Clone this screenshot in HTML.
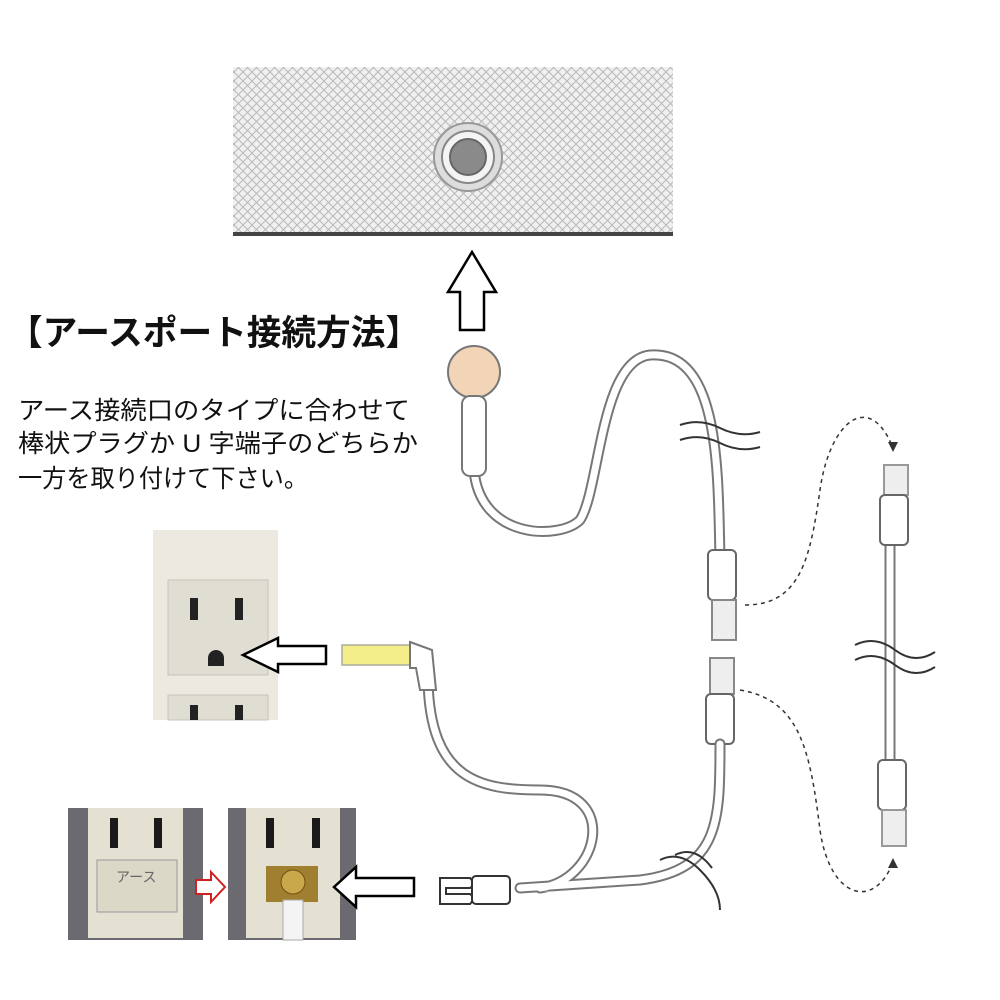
<!DOCTYPE html>
<html><head><meta charset="utf-8"><style>
body{margin:0;background:#fff;width:1000px;height:1000px;overflow:hidden}
svg{display:block}
text{font-family:"Liberation Sans","Noto Sans CJK JP",sans-serif}
</style></head><body>
<svg width="1000" height="1000" viewBox="0 0 1000 1000" xmlns="http://www.w3.org/2000/svg">
<defs>
<pattern id="hatch" width="9" height="9" patternUnits="userSpaceOnUse">
<rect width="9" height="9" fill="#f0f0f0"/>
<path d="M0 0L9 9M9 0L0 9" stroke="#b8b8b8" stroke-width="1"/>
</pattern>
</defs>
<rect x="233" y="67" width="440" height="167" fill="url(#hatch)"/>
<rect x="233" y="232" width="440" height="4" fill="#444"/>
<circle cx="468" cy="157" r="34" fill="#ddd" stroke="#999" stroke-width="2"/>
<circle cx="468" cy="157" r="26" fill="#f4f4f4" stroke="#888" stroke-width="2"/>
<circle cx="468" cy="157" r="18" fill="#8a8a8a" stroke="#666" stroke-width="2"/>
<polygon points="472,252 496,292 484,292 484,330 460,330 460,292 448,292" fill="#fff" stroke="#000" stroke-width="2.5"/>
<text x="8" y="345" font-size="35" font-weight="bold" fill="#111" textLength="412" lengthAdjust="spacingAndGlyphs">【アースポート接続方法】</text>
<text x="18" y="419" font-size="25" fill="#111" textLength="392" lengthAdjust="spacingAndGlyphs">アース接続口のタイプに合わせて</text>
<text x="18" y="452" font-size="25" fill="#111" textLength="400" lengthAdjust="spacingAndGlyphs">棒状プラグか U 字端子のどちらか</text>
<text x="18" y="487" font-size="25" fill="#111" textLength="290" lengthAdjust="spacingAndGlyphs">一方を取り付けて下さい。</text>
<g fill="none" stroke-linecap="round">
<path d="M474 470 C480 540 560 540 580 520 C600 490 600 360 650 355 C720 350 718 470 720 560" stroke="#777" stroke-width="11"/>
<path d="M474 470 C480 540 560 540 580 520 C600 490 600 360 650 355 C720 350 718 470 720 560" stroke="#fff" stroke-width="7"/>
</g>
<circle cx="474" cy="372" r="26" fill="#f2d5b6" stroke="#777" stroke-width="2"/>
<rect x="462" y="396" width="24" height="80" rx="8" fill="#fff" stroke="#777" stroke-width="2"/>
<path d="M680 425 Q700 418 720 428 T760 432 M680 440 Q700 433 720 443 T760 447" stroke="#333" stroke-width="2" fill="none"/>
<rect x="708" y="550" width="28" height="50" rx="5" fill="#fff" stroke="#666" stroke-width="2"/>
<rect x="712" y="600" width="24" height="40" fill="#eee" stroke="#888" stroke-width="2"/>
<rect x="710" y="658" width="24" height="36" fill="#eee" stroke="#888" stroke-width="2"/>
<rect x="706" y="694" width="28" height="50" rx="5" fill="#fff" stroke="#666" stroke-width="2"/>
<g fill="none" stroke-linecap="round">
<path d="M428 680 C430 780 480 790 540 790 C620 790 600 880 540 888 M720 744 C720 820 720 870 640 880 L520 888" stroke="#777" stroke-width="11"/>
<path d="M428 680 C430 780 480 790 540 790 C620 790 600 880 540 888 M720 744 C720 820 720 870 640 880 L520 888" stroke="#fff" stroke-width="7"/>
</g>
<rect x="342" y="645" width="72" height="20" fill="#f3ee8a" stroke="#aa9" stroke-width="1.5"/>
<path d="M410 642 L432 650 L436 690 L420 690 L416 668 L410 668 Z" fill="#fff" stroke="#777" stroke-width="2"/>
<path d="M660 860 Q680 850 700 870 T720 910 M675 855 Q695 845 712 868" stroke="#333" stroke-width="2" fill="none"/>
<path d="M440 878 L470 878 Q476 884 470 888 L446 888 L446 894 L470 894 Q476 898 470 904 L440 904 Z" fill="#fff" stroke="#333" stroke-width="2"/>
<rect x="472" y="876" width="38" height="28" rx="4" fill="#fff" stroke="#333" stroke-width="2"/>
<g fill="none">
<path d="M890 540 L890 760" stroke="#777" stroke-width="11"/>
<path d="M890 540 L890 760" stroke="#fff" stroke-width="7"/>
</g>
<rect x="884" y="465" width="24" height="30" fill="#eee" stroke="#999" stroke-width="2"/>
<rect x="880" y="495" width="28" height="50" rx="5" fill="#fff" stroke="#666" stroke-width="2"/>
<rect x="878" y="760" width="28" height="50" rx="5" fill="#fff" stroke="#666" stroke-width="2"/>
<rect x="882" y="810" width="24" height="36" fill="#eee" stroke="#999" stroke-width="2"/>
<path d="M855 645 Q875 635 895 650 T935 652 M855 660 Q875 650 895 665 T935 667" stroke="#333" stroke-width="2" fill="none"/>
<g fill="none" stroke="#333" stroke-width="1.5" stroke-dasharray="4 4">
<path d="M745 605 C800 605 810 560 820 490 C830 420 870 390 893 448"/>
<path d="M740 690 C800 700 810 750 820 830 C830 900 875 910 893 862"/>
</g>
<polygon points="893,452 888,442 898,442" fill="#333"/>
<polygon points="893,858 888,868 898,868" fill="#333"/>
<rect x="153" y="530" width="125" height="190" fill="#ece9e0"/>
<rect x="168" y="580" width="100" height="95" fill="#e0ddd2" stroke="#c8c4b8"/>
<rect x="190" y="598" width="8" height="22" fill="#222"/><rect x="235" y="598" width="8" height="22" fill="#222"/>
<path d="M208 658 a8 8 0 0 1 16 0 v8 h-16 z" fill="#222"/>
<rect x="168" y="695" width="100" height="25" fill="#e0ddd2" stroke="#c8c4b8"/>
<rect x="190" y="705" width="8" height="15" fill="#222"/><rect x="235" y="705" width="8" height="15" fill="#222"/>
<polygon points="243,655 278,638 278,646 326,646 326,664 278,664 278,672" fill="#fff" stroke="#000" stroke-width="2.5"/>
<rect x="68" y="808" width="135" height="132" fill="#6a6a70"/>
<rect x="88" y="808" width="95" height="130" fill="#e4e0d2"/>
<rect x="110" y="818" width="8" height="30" fill="#1a1a1a"/><rect x="154" y="818" width="8" height="30" fill="#1a1a1a"/>
<rect x="97" y="860" width="80" height="52" fill="#dcd8c8" stroke="#999"/>
<text x="116" y="882" font-size="14" fill="#666">アース</text>
<rect x="228" y="808" width="128" height="132" fill="#6a6a70"/>
<rect x="246" y="808" width="94" height="130" fill="#e4e0d2"/>
<rect x="266" y="818" width="8" height="30" fill="#1a1a1a"/><rect x="312" y="818" width="8" height="30" fill="#1a1a1a"/>
<rect x="266" y="866" width="52" height="36" fill="#a08030"/>
<circle cx="293" cy="882" r="12" fill="#c8a84a" stroke="#705010"/>
<rect x="283" y="900" width="20" height="40" fill="#f4f4f4" stroke="#aaa"/>
<polygon points="196,880 211,880 211,872 225,887 211,902 211,894 196,894" fill="#fff" stroke="#d02020" stroke-width="2"/>
<polygon points="334,887 356,867 356,878 414,878 414,896 356,896 356,907" fill="#fff" stroke="#000" stroke-width="2.5"/>
</svg>
</body></html>
